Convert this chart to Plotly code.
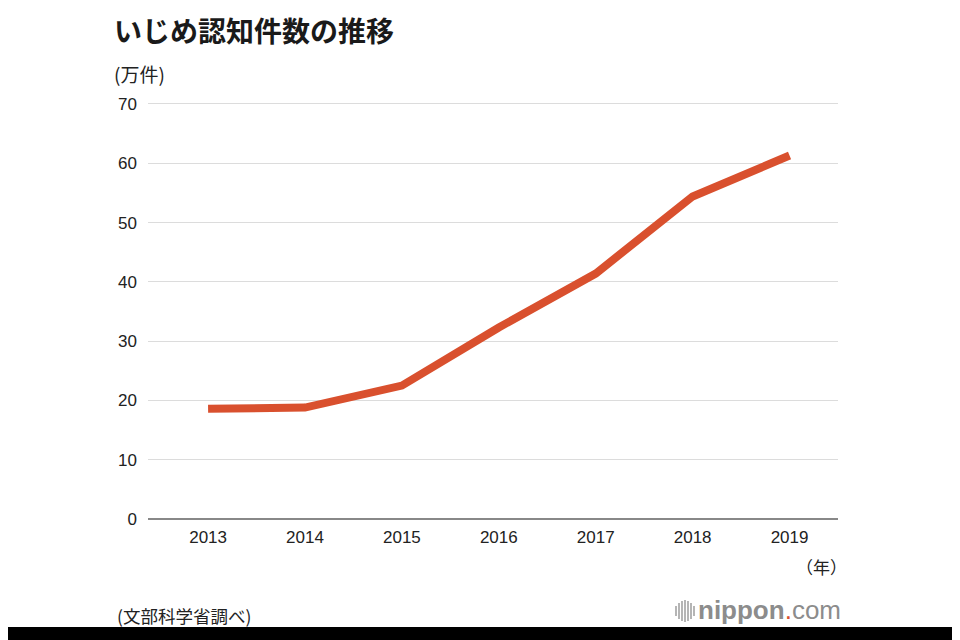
import plotly.graph_objects as go

years = ["2013", "2014", "2015", "2016", "2017", "2018", "2019"]
cases = [18.6, 18.8, 22.5, 32.3, 41.4, 54.4, 61.3]  # 万件
y_ticks = [0, 10, 20, 30, 40, 50, 60, 70]

# page has an 8px body margin, so the figure is drawn 8px in from the window edge
OFF = 8
W, H = 960 - OFF, 640 - OFF
PL, PR, PT, PB = 148, 838, 101, 519      # plot edges in window pixels
L, R, T, B = PL - OFF, W - (PR - OFF), PT - OFF, H - (PB - OFF)
pw, ph = W - L - R, H - T - B

def px(x):  # window pixel -> paper x
    return (x - OFF - L) / pw

def py(y):  # window pixel -> paper y
    return (H - B - (y - OFF)) / ph

JP = "Noto Sans CJK JP, Liberation Sans, sans-serif"
NUM = "Liberation Sans, Noto Sans CJK JP, sans-serif"

fig = go.Figure()
fig.add_trace(go.Scatter(
    x=years, y=cases, mode="lines",
    line=dict(color="#d9502e", width=8),
    hoverinfo="skip", showlegend=False,
))

ann = []
ann.append(dict(text="<b>いじめ認知件数の推移</b>", x=px(112), y=py(OFF), xanchor="left", yanchor="top",
                font=dict(family=JP, size=28, color="#1a1a1a")))
ann.append(dict(text="(万件)", x=px(112), y=py(73), xanchor="left", yanchor="middle",
                font=dict(family=JP, size=19, color="#222")))
ann.append(dict(text="（年）", x=px(849), y=py(566), xanchor="right", yanchor="middle",
                font=dict(family=JP, size=17, color="#222")))
ann.append(dict(text="(文部科学省調べ)", x=px(115), y=py(615), xanchor="left", yanchor="middle",
                font=dict(family=JP, size=17.5, color="#222")))
ann.append(dict(text="<b>nippon</b><span style='color:#d9502e'>.</span>com", x=px(843), y=py(610),
                xanchor="right", yanchor="middle",
                font=dict(family="Liberation Sans, sans-serif", size=26, color="#8c8c8c")))
for a in ann:
    a.update(xref="paper", yref="paper", showarrow=False)

shapes = []
# logo icon bars
icon = [(676, 5), (679, 8), (682, 10), (685, 11), (688, 10), (691, 8), (694, 5)]
for xc, hh in icon:
    shapes.append(dict(type="line", xref="paper", yref="paper",
                       x0=px(xc), x1=px(xc), y0=py(611 - hh), y1=py(611 + hh),
                       line=dict(color="#b5b5b5", width=2)))
# black bottom band
shapes.append(dict(type="rect", xref="paper", yref="paper",
                   x0=px(0), x1=px(960), y0=py(640), y1=py(627),
                   fillcolor="#000", line=dict(width=0), layer="above"))

fig.update_layout(
    width=W, height=H,
    margin=dict(l=L, r=R, t=T, b=B),
    paper_bgcolor="white", plot_bgcolor="white",
    annotations=ann, shapes=shapes,
    xaxis=dict(type="category", range=[-0.62, 6.5], showgrid=False, zeroline=False,
               showline=False, ticks="", tickfont=dict(family=NUM, size=17, color="#222"),
               ticklabelstandoff=6),
    yaxis=dict(range=[0, 70.5], tickvals=y_ticks, showgrid=True, gridcolor="#dcdcdc", gridwidth=1,
               zeroline=True, zerolinecolor="#888", zerolinewidth=2, showline=False, ticks="",
               tickfont=dict(family=NUM, size=17, color="#222"), ticklabelstandoff=10),
)

fig.write_html("out.html")
